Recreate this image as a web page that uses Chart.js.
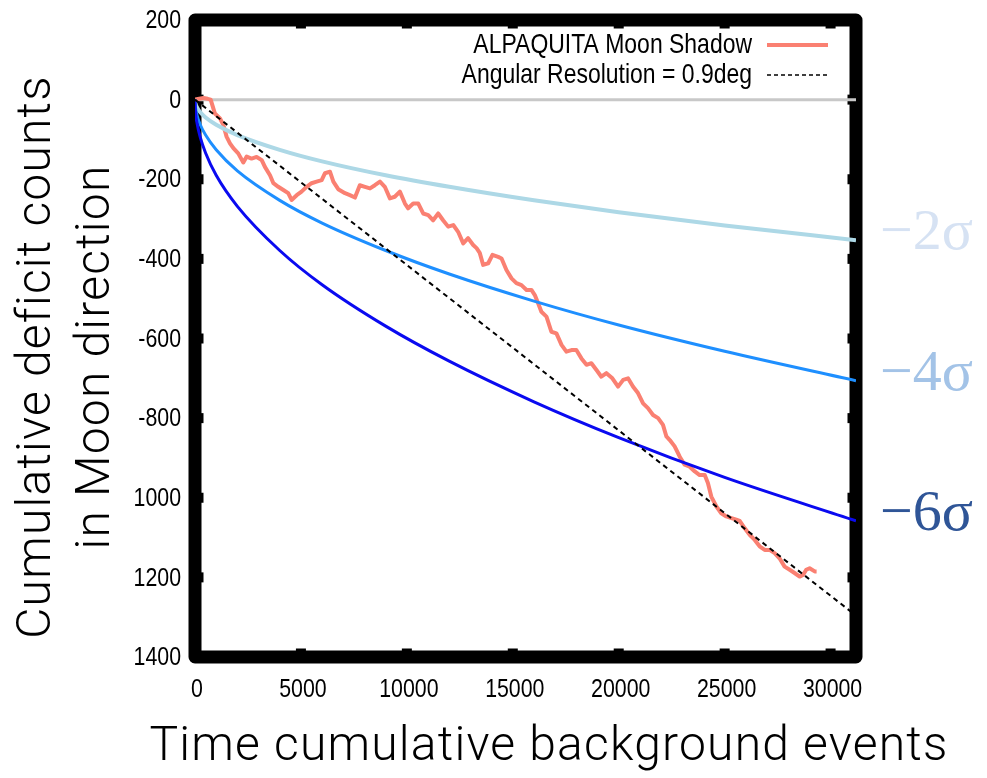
<!DOCTYPE html>
<html>
<head>
<meta charset="utf-8">
<script src="https://cdn.jsdelivr.net/npm/chart.js@4.4.1/dist/chart.umd.min.js"></script>
<style>
  html, body { margin: 0; padding: 0; background: #fff; }
  #chart { display: block; }
</style>
</head>
<body>
<canvas id="chart" width="987" height="778"></canvas>
<script>
// significance curves, sampled along the background axis
const sigmaX      = [0, 25, 100, 250, 500, 1000, 2000, 4000, 6000, 9000, 12000, 16000, 20000, 25000, 31200];
const minus2Sigma = [0, -10, -20, -32, -45, -63, -89, -126, -155, -190, -219, -253, -283, -316, -353];
const minus4Sigma = [0, -20, -40, -63, -89, -126, -179, -253, -310, -379, -438, -506, -566, -632, -706];
const minus6Sigma = [0, -30, -60, -95, -134, -190, -268, -379, -465, -569, -657, -759, -849, -949, -1058];

// measured moon shadow deficit
const moonX = [0, 200, 400, 600, 740, 940, 1180, 1340, 1490, 1650, 1810, 2040, 2280, 2440, 2670,
  2910, 3150, 3300, 3540, 3700, 3930, 4170, 4400, 4560, 4800, 5030, 5270, 5500, 5740, 5980,
  6130, 6370, 6530, 6760, 7080, 7310, 7550, 7780, 8020, 8260, 8490, 8730, 8960, 9200, 9430,
  9670, 9910, 10060, 10300, 10540, 10770, 11010, 11240, 11480, 11710, 11950, 12190, 12420, 12660, 12890,
  13130, 13290, 13440, 13600, 13840, 14040, 14310, 14470, 14700, 14940, 15170, 15410, 15650, 15880, 16040,
  16200, 16350, 16590, 16820, 17060, 17300, 17530, 17770, 18000, 18240, 18480, 18710, 18950, 19180, 19420,
  19700, 19970, 20210, 20440, 20680, 20910, 21150, 21380, 21620, 21860, 22090, 22250, 22410, 22640, 22880,
  23110, 23350, 23590, 23820, 24060, 24210, 24370, 24610, 24840, 25080, 25320, 25550, 25710, 25940, 26180,
  26420, 26650, 26890, 27120, 27360, 27590, 27830, 28070, 28300, 28540, 28700, 28850, 29010, 29250, 29340];
const moonY = [0, 2, 4, 2, 0, -35, -47, -64, -93, -110, -122, -135, -158, -143, -148,
  -144, -152, -169, -190, -210, -219, -227, -235, -252, -240, -231, -219, -210, -206, -202,
  -185, -181, -206, -225, -235, -240, -246, -215, -219, -223, -215, -206, -219, -248, -244,
  -231, -261, -273, -261, -261, -286, -290, -303, -286, -303, -319, -315, -332, -361, -348,
  -365, -373, -385, -415, -411, -390, -395, -399, -428, -449, -461, -466, -478, -478, -491,
  -512, -533, -545, -583, -587, -616, -633, -629, -629, -650, -666, -662, -679, -696, -687,
  -700, -721, -704, -700, -721, -737, -763, -775, -792, -800, -817, -846, -855, -871, -897,
  -917, -922, -934, -943, -943, -963, -997, -1022, -1039, -1047, -1051, -1055, -1058, -1076, -1093,
  -1106, -1122, -1131, -1131, -1139, -1152, -1173, -1181, -1189, -1198, -1194, -1181, -1177, -1185, -1185];

// expectation for a 0.9 deg angular resolution
const resolutionX = [0, 31200];
const resolutionY = [0, -1296];

const zeroX = [0, 31200];
const zeroY = [0, 0];

const xTickValues = [0, 5000, 10000, 15000, 20000, 25000, 30000];
const xTickLabels = ['0', '5000', '10000', '15000', '20000', '25000', '30000'];
const yTickValues = [200, 0, -200, -400, -600, -800, -1000, -1200, -1400];
const yTickLabels = ['200', '0', '-200', '-400', '-600', '-800', '1000', '1200', '1400'];

const sigmaLabels = ['\u22122\u03c3', '\u22124\u03c3', '\u22126\u03c3'];
const sigmaLabelColors = ['#d6e2f3', '#a3c3e7', '#2f5597'];

const X_MAX = 31200;
const SANS = '"Liberation Sans", Arial, sans-serif';
const TITLE_FONT = 'Roboto, "Noto Sans", sans-serif';
const NARROW = 0.82; // horizontal squeeze for the narrow label face

const pts = (xs, ys) => xs.map((x, i) => ({ x, y: ys[i] }));

function narrowText(ctx, text, x, y, align) {
  ctx.save();
  ctx.translate(x, y);
  ctx.scale(NARROW, 1);
  ctx.textAlign = align;
  ctx.fillText(text, 0, 0);
  ctx.restore();
}

// thick frame with inward tick notches, drawn under the curves
const framePlugin = {
  id: 'frame',
  beforeDatasetsDraw(chart) {
    const { ctx, chartArea: a, scales } = chart;
    const w = 13;
    ctx.save();
    ctx.strokeStyle = '#000';
    ctx.fillStyle = '#000';
    ctx.lineWidth = w;
    ctx.lineJoin = 'round';
    ctx.strokeRect(a.left, a.top, a.right - a.left, a.bottom - a.top);
    const n = 2;
    xTickValues.slice(1).forEach(v => {
      const px = scales.x.getPixelForValue(v);
      ctx.fillRect(px - 5, a.bottom - w / 2 - n, 10, n + 1);
      ctx.fillRect(px - 5, a.top + w / 2 - 1, 10, n + 1);
    });
    yTickValues.slice(1, -1).forEach(v => {
      const py = scales.y.getPixelForValue(v);
      ctx.fillRect(a.left + w / 2 - 1, py - 5, n + 1, 10);
      ctx.fillRect(a.right - w / 2 - n, py - 5, n + 1, 10);
    });
    ctx.restore();
  }
};

// tick labels, legend, axis titles and sigma labels
const annotatePlugin = {
  id: 'annotate',
  afterDraw(chart) {
    const { ctx, scales } = chart;
    ctx.save();
    ctx.fillStyle = '#000';
    ctx.textBaseline = 'middle';

    ctx.font = '26px ' + SANS;
    yTickValues.forEach((v, i) => {
      narrowText(ctx, yTickLabels[i], 181, scales.y.getPixelForValue(v) + 1, 'right');
    });
    xTickValues.forEach((v, i) => {
      narrowText(ctx, xTickLabels[i], scales.x.getPixelForValue(v) + 2, 690, 'center');
    });

    const rows = [chart.data.datasets[4], chart.data.datasets[0]];
    rows.forEach((ds, i) => {
      const y = 45 + i * 30;
      ctx.font = '28px ' + SANS;
      ctx.fillStyle = '#000';
      narrowText(ctx, ds.label, 752, y, 'right');
      ctx.beginPath();
      ctx.strokeStyle = ds.borderColor;
      ctx.lineWidth = i === 0 ? ds.borderWidth : 1.5;
      ctx.setLineDash(i === 0 ? [] : [4, 3]);
      ctx.moveTo(767, y);
      ctx.lineTo(828, y);
      ctx.stroke();
    });
    ctx.setLineDash([]);

    ctx.fillStyle = '#000';
    ctx.font = '300 48px ' + TITLE_FONT;
    ctx.letterSpacing = '1.2px';
    ctx.textAlign = 'center';
    ctx.fillText('Time cumulative background events', 549, 748);

    ctx.save();
    ctx.translate(38, 357);
    ctx.rotate(-Math.PI / 2);
    ctx.fillText('Cumulative deficit counts', 0, 0);
    ctx.fillText('in Moon direction', 0, 59);
    ctx.restore();
    ctx.letterSpacing = '0px';

    const ends = [minus2Sigma, minus4Sigma, minus6Sigma].map(s => s[s.length - 1]);
    ctx.font = '58px "Liberation Serif", "DejaVu Serif", serif';
    ctx.textAlign = 'left';
    ends.forEach((v, i) => {
      ctx.fillStyle = sigmaLabelColors[i];
      ctx.fillText(sigmaLabels[i], 880, scales.y.getPixelForValue(v) - 6);
    });
    ctx.restore();
  }
};

new Chart(document.getElementById('chart'), {
  type: 'line',
  data: {
    datasets: [
      {
        label: 'Angular Resolution = 0.9deg',
        data: pts(resolutionX, resolutionY),
        borderColor: '#000',
        borderWidth: 2,
        borderDash: [5, 4]
      },
      {
        label: '-6 sigma',
        data: pts(sigmaX, minus6Sigma),
        borderColor: '#0a0af0',
        borderWidth: 3,
        cubicInterpolationMode: 'monotone'
      },
      {
        label: '-4 sigma',
        data: pts(sigmaX, minus4Sigma),
        borderColor: '#1e8fff',
        borderWidth: 3,
        cubicInterpolationMode: 'monotone'
      },
      {
        label: '-2 sigma',
        data: pts(sigmaX, minus2Sigma),
        borderColor: '#add8e6',
        borderWidth: 4,
        cubicInterpolationMode: 'monotone'
      },
      {
        label: 'ALPAQUITA Moon Shadow',
        data: pts(moonX, moonY),
        borderColor: '#fa8072',
        borderWidth: 4
      },
      {
        label: 'zero',
        data: pts(zeroX, zeroY),
        borderColor: '#c8c8c8',
        borderWidth: 3
      }
    ]
  },
  options: {
    responsive: false,
    animation: false,
    devicePixelRatio: 1,
    elements: { point: { radius: 0 }, line: { tension: 0, borderJoinStyle: 'round' } },
    layout: { padding: { top: 20, right: 131, left: 0, bottom: 0 } },
    plugins: { legend: { display: false }, tooltip: { enabled: false } },
    scales: {
      x: {
        type: 'linear',
        min: 0,
        max: X_MAX,
        grid: { display: false, drawTicks: false },
        border: { display: false },
        afterBuildTicks: s => { s.ticks = xTickValues.map(v => ({ value: v })); },
        afterFit: s => { s.height = 121; },
        ticks: { display: false }
      },
      y: {
        type: 'linear',
        min: -1400,
        max: 200,
        grid: { display: false, drawTicks: false },
        border: { display: false },
        afterBuildTicks: s => { s.ticks = yTickValues.map(v => ({ value: v })); },
        afterFit: s => { s.width = 195; },
        ticks: { display: false }
      }
    }
  },
  plugins: [framePlugin, annotatePlugin]
});
</script>
</body>
</html>
